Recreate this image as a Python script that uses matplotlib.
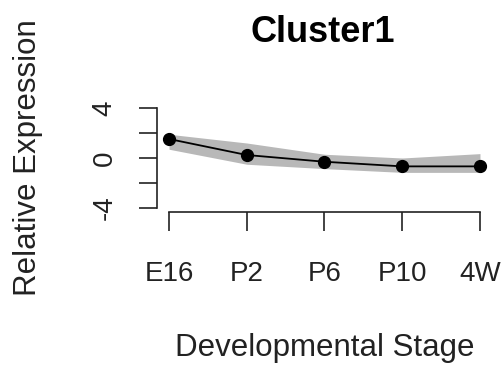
"""Cluster1 expression profile across developmental stages (R base-graphics look)."""

import matplotlib
matplotlib.use("Agg")
import matplotlib.pyplot as plt  # noqa: E402
import numpy as np  # noqa: E402

STAGES = ["E16", "P2", "P6", "P10", "4W"]
MEAN = [1.52, 0.24, -0.30, -0.67, -0.67]
BAND_HI = [1.90, 1.20, 0.30, 0.00, 0.35]
BAND_LO = [0.70, -0.50, -0.85, -1.15, -1.15]
YTICKS = [-4, -2, 0, 2, 4]
YTICKLABELS = ["-4", "", "0", "", "4"]

plt.rcParams.update({
    "font.family": ["Liberation Sans", "DejaVu Sans"],
    "font.size": 20,
})

W, H = 502, 367
fig = plt.figure(figsize=(W / 100, H / 100), dpi=100)
# plot region in pixels: left 156.6, right 492.4, top 104, bottom 212
ax = fig.add_axes([156.6 / W, 1 - 212 / H, (492.4 - 156.6) / W, 108 / H])

x = np.arange(1, len(STAGES) + 1)
ax.fill_between(x, BAND_LO, BAND_HI, color="#b8b8b8", lw=0, zorder=1)
ax.plot(x, MEAN, color="black", lw=1.3, marker="o", ms=8.5, zorder=3)

ax.set_xlim(0.84, 5.16)
ax.set_ylim(-4.32, 4.32)
for s in ("top", "right"):
    ax.spines[s].set_visible(False)
ax.spines["left"].set_bounds(-4, 4)
ax.spines["bottom"].set_bounds(1, 5)
for s in ("left", "bottom"):
    ax.spines[s].set_linewidth(1.2)
    ax.spines[s].set_color("#222222")

ax.set_xticks(x, STAGES)
ax.set_yticks(YTICKS, YTICKLABELS)
ax.tick_params(axis="x", length=14, width=1.2, color="#222222", pad=21,
               labelsize=20, labelcolor="#222222")
ax.tick_params(axis="y", length=13, width=1.2, color="#222222", pad=15,
               labelsize=20, labelcolor="#222222")
for lbl in ax.get_yticklabels():
    lbl.set_rotation(90)
    lbl.set_va("center")

fig.text(323 / W, 1 - 42 / H, "Cluster1", ha="center", va="baseline",
         fontsize=26, fontweight="bold")
fig.text(325 / W, 1 - 356 / H, "Developmental Stage", ha="center",
         va="baseline", fontsize=22.5, color="#222222")
fig.text(28 / W, 1 - 158 / H, "Relative Expression", ha="center",
         va="center", rotation=90, fontsize=22.5, color="#222222")

fig.savefig("out.png", dpi=100)
